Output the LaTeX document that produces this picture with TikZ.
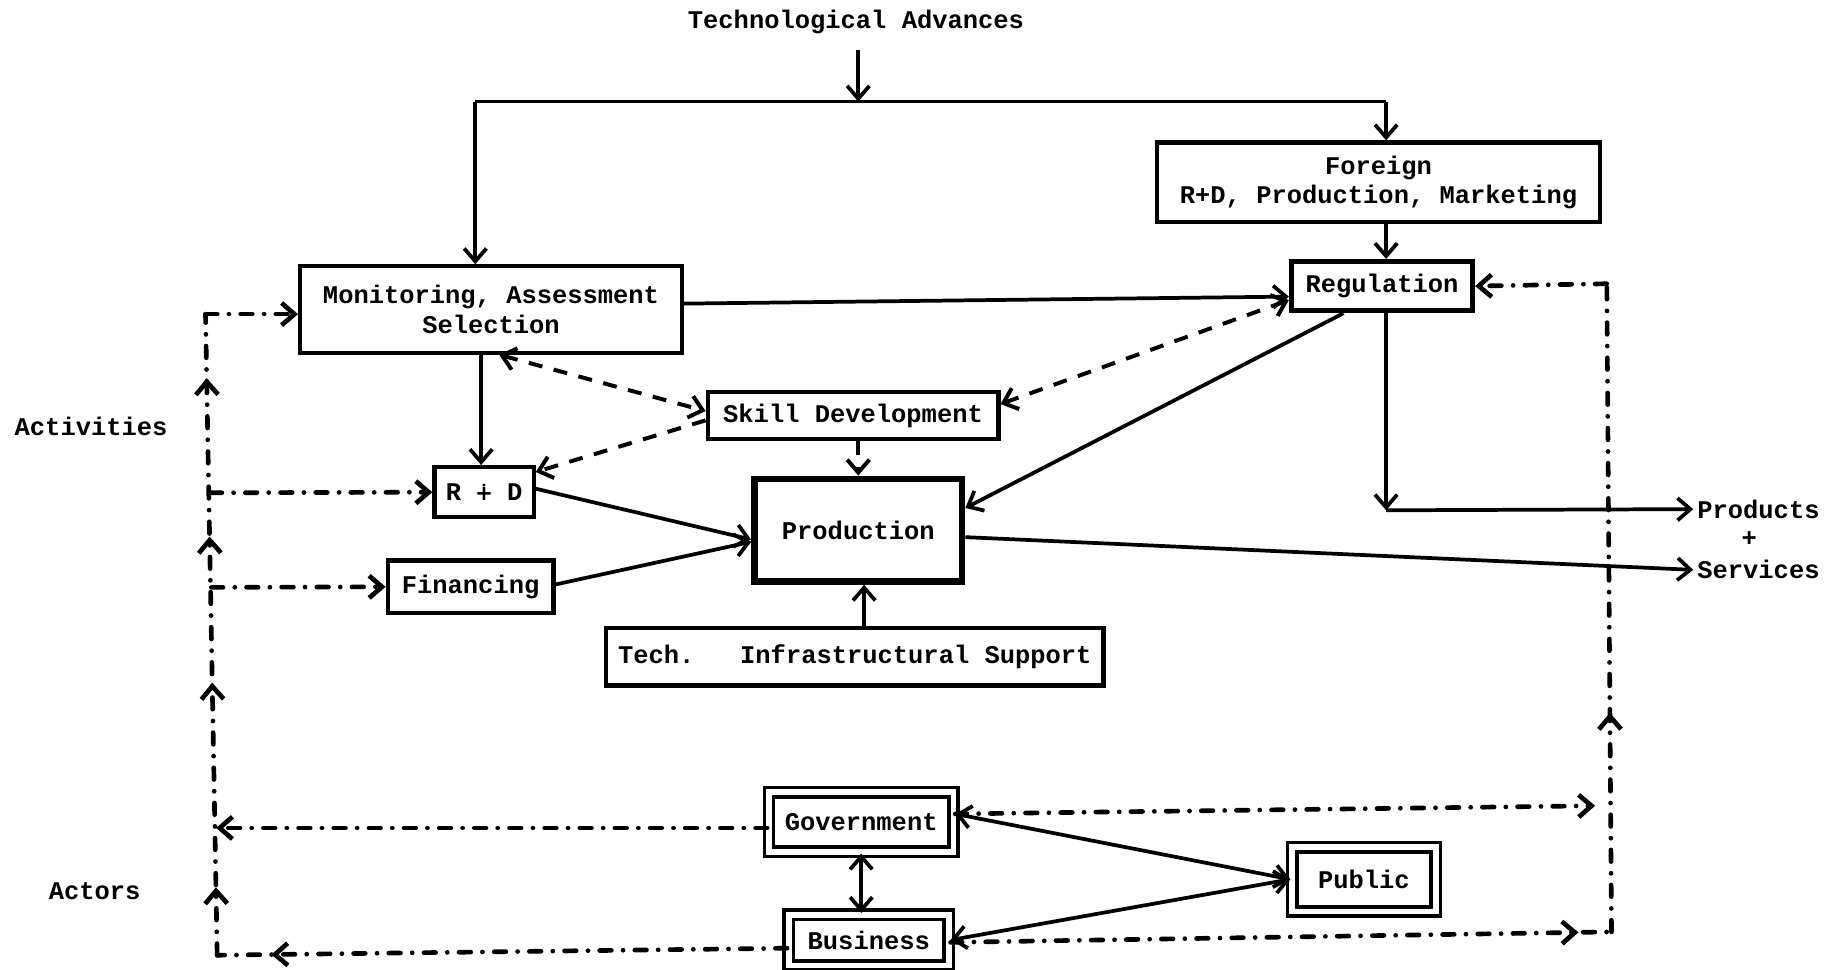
\documentclass[tikz,border=0pt]{standalone}
\usepackage{fontspec}
\setmainfont{Liberation Mono}
\newfontfamily\djsans{DejaVu Sans}
\usetikzlibrary{arrows.meta,decorations.markings}
\begin{document}
\begin{tikzpicture}[x=1pt,y=-1pt,
  >={Straight Barb[length=11pt,width=19pt]},
  every node/.style={font=\fontsize{21.8}{25}\selectfont\bfseries},
  box/.style={draw, line width=3.6pt, inner sep=0pt, align=center},
  dbox/.style={draw, double, line width=3pt, double distance=5pt, inner sep=0pt},
  conn/.style={line width=3.2pt},
  dashedline/.style={line width=3.4pt, dash pattern=on 12pt off 10pt},
  dd/.style={line width=4pt, line cap=round, dash pattern=on 10pt off 10pt on 0.1pt off 10pt}
]
\path[use as bounding box] (0,0) rectangle (1568,830);

% nodes
\node (ta) at (733,19) {Technological Advances};
\node[box, minimum width=379pt, minimum height=68pt] (foreign) at (1180.5,156) {Foreign\\R+D, Production, Marketing};
\node[box, line width=4.5pt, minimum width=155pt, minimum height=42pt] (reg) at (1183.5,245) {Regulation};
\node[box, minimum width=327pt, minimum height=74pt] (mon) at (420.5,265) {Monitoring, Assessment\\Selection};
\node[box, minimum width=249pt, minimum height=40pt] (skill) at (730.5,356) {Skill Development};
\node[box, line width=5.5pt, minimum width=178pt, minimum height=88pt] (prod) at (735,454) {Production};
\node[box, minimum width=426pt, minimum height=49pt] (tech) at (732,562.5) {Tech.\ \ \ Infrastructural Support};
\node[box, minimum width=85pt, minimum height=43pt] (rd) at (414.5,421.5) {R {\djsans\fontsize{19}{24}\selectfont ∔} D};
\node[box, minimum width=142pt, minimum height=45pt] (fin) at (403,502.5) {Financing};
\node[dbox, minimum width=158pt, minimum height=51pt] (gov) at (737.5,704) {Government};
\node[dbox, minimum width=137pt, minimum height=43.5pt] (bus) at (744,805) {Business};
\node[dbox, minimum width=123pt, minimum height=55pt] (pub) at (1168,753) {Public};
\node[anchor=west] (prods) at (1450,436) {Products};
\node (plus) at (1498,462) {+};
\node[anchor=west] (servs) at (1450,488) {Services};
\node (act) at (78,365) {Activities};
\node (actors) at (81,763) {Actors};

% coordinates
\coordinate (tc) at (735,87);
\coordinate (tl) at (407,87);
\coordinate (tr) at (1187,87);
\coordinate (pj) at (1187,437);
\coordinate (L1) at (176,269);
\coordinate (L2) at (180,422);
\coordinate (L3) at (181,503);
\coordinate (L4) at (185,709);
\coordinate (L5) at (186,818);
\coordinate (R1) at (1376,243);
\coordinate (R4) at (1366,690);
\coordinate (R5) at (1380,798);

% solid connectors
\draw[conn] (tl) -- (tr);
\draw[conn,->,shorten <=10pt] (ta.south -| tc) -- (tc);
\draw[conn,->] (tl) -- (tl |- mon.north);
\draw[conn,->] (tr) -- (tr |- foreign.north);
\draw[conn,->] (tr |- foreign.south) -- (tr |- reg.north);
\draw[conn,->] ([yshift=5pt]mon.east) -- ([yshift=-9pt]reg.west);
\draw[conn,->] ([xshift=-8.5pt]mon.south) -- ([xshift=-2.5pt]rd.north);
\draw[conn,->] ([yshift=3pt]rd.east) -- ([yshift=-8pt]prod.west);
\draw[conn,->] ([yshift=2pt]fin.east) -- ([yshift=-10pt]prod.west);
\draw[conn,->] ([xshift=8pt]tech.north) -- ([xshift=5pt]prod.south);
\draw[conn,->] ([xshift=-33pt]reg.south) -- ([yshift=19pt]prod.east);
\draw[conn,->] ([yshift=-6pt]prod.east) -- (servs.west);
\draw[conn,->] ([xshift=3.5pt]reg.south) -- (pj);
\draw[conn,->] (pj) -- (prods.west);

% dashed connectors
\draw[dashedline,<->] ([xshift=7pt]mon.south) -- ([yshift=4pt]skill.west);
\draw[dashedline,->] ([yshift=-4pt]skill.west) -- ([yshift=-6pt]rd.north east);
\draw[dashedline,<->] ([yshift=10pt]skill.east) -- ([yshift=-12pt]reg.west);
\draw[dashedline,->] (skill.south -| prod.north) -- (prod.north);

% dash-dot left
\draw[dd, postaction={decorate}, decoration={markings,
   mark=at position 0.106 with {\arrow{>}},
   mark=at position 0.425 with {\arrow{>}},
   mark=at position 0.653 with {\arrow{>}},
   mark=at position 0.90 with {\arrow{>}}}] (L5) -- (L1);
\draw[dd,->] (L1) -- ([yshift=-4pt]mon.west);
\draw[dd,->] (L2) -- (rd.west);
\draw[dd,->] (L3) -- (fin.west);
\draw[dd,->] ([yshift=-5pt]gov.west) -- (L4);
\draw[dd, postaction={decorate}, decoration={markings,
   mark=at position 0.905 with {\arrow{>}}}] ([yshift=-7pt]bus.west) -- (L5);

% dash-dot right
\draw[dd,->] ([yshift=7pt]gov.east) -- (R4);
\draw[dd, postaction={decorate}, decoration={markings,
   mark=at position 0.95 with {\arrow{>}}}] ([yshift=-2pt]bus.east) -- (R5);
\draw[dd, postaction={decorate}, decoration={markings,
   mark=at position 0.338 with {\arrow{>}}}] (R5) -- (R1);
\draw[dd,->] (R1) -- (reg.east);

% actors
\draw[conn,<->] (gov.south) -- (gov.south |- bus.north);
\draw[conn,<->] ([yshift=7pt]gov.east) -- (pub.west);
\draw[conn,<->] (bus.east) -- (pub.west);
\end{tikzpicture}
\end{document}
